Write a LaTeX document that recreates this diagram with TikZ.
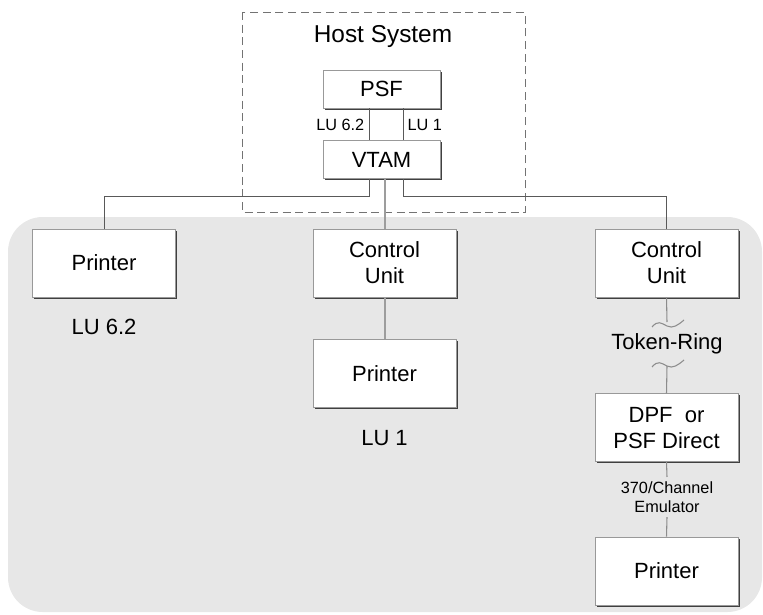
\documentclass[tikz,border=0pt]{standalone}
\usepackage{fontspec}
\setmainfont{Liberation Sans}
\usetikzlibrary{positioning,shadows,calc}
\definecolor{bgfill}{gray}{0.905}
\definecolor{linegray}{gray}{0.55}
\newcommand{\boxfont}{\fontsize{16.5}{19.5}\selectfont}
\newcommand{\titlefont}{\fontsize{18.3}{21}\selectfont}
\newcommand{\smallfont}{\fontsize{12.2}{14}\selectfont}
\tikzset{
	unit/.style={draw=black!40, fill=white, line width=0.5pt, align=center, font=\boxfont,
		minimum width=107pt, minimum height=51pt, inner sep=0pt,
		drop shadow={shadow xshift=1.3pt, shadow yshift=-1.3pt, opacity=1, fill=black!75}},
	hostunit/.style={unit, minimum width=87.5pt, minimum height=28.5pt},
	wire/.style={draw=black!65, line width=0.6pt},
	trunk/.style={draw=linegray!85, line width=1.5pt},
	thin/.style={draw=linegray, line width=0.8pt},
}

\begin{document}
\begin{tikzpicture}[x=0.75pt, y=-0.75pt]
	\useasboundingbox (0,0) rectangle (763,614);
	\fill[bgfill, rounded corners=26pt] (8,217) rectangle (762,612);
	\draw[black!55, line width=0.7pt, dash pattern=on 6pt off 3.5pt] (242,12) rectangle (525,212);

	\node[font=\titlefont] (host) at (383,37) {Host System};
	\node[hostunit] (psf) at (381.5,89) {PSF};
	\node[hostunit, below=24pt of psf] (vtam) {VTAM};

	\node[unit] (pr1) at (104,263) {Printer};
	\node[unit] (cu1) at (384.5,263) {Control\\Unit};
	\node[unit] (cu2) at (666.5,263) {Control\\Unit};
	\node[unit, below=31.5pt of cu1] (pr2) {Printer};
	\node[unit, below=72pt of cu2] (dpf) {DPF\ \ or\\PSF Direct};
	\node[unit, below=56pt of dpf] (pr3) {Printer};

	\node[font=\boxfont, below=13pt of pr1] (lu62) {LU 6.2};
	\node[font=\boxfont, below=13pt of pr2] (lu1) {LU 1};
	\node[font=\boxfont] (ring) at (667,344) {Token-Ring};
	\node[font=\smallfont, align=center] (emu) at (667,497) {370/Channel\\Emulator};

	\coordinate[xshift=-9.4pt] (psfl) at (psf.south);
	\coordinate[xshift=16.1pt] (psfr) at (psf.south);
	\coordinate (ring1) at (667,322);
	\coordinate (ring2) at (667,366);

	\draw[wire] (psfl) -- (psfl |- vtam.north);
	\draw[wire] (psfr) -- (psfr |- vtam.north);
	\node[font=\smallfont, anchor=east] (lua) at ([yshift=-0.5pt]$(psfl)!0.5!(psfl |- vtam.north)$) {LU 6.2};
	\node[font=\smallfont, anchor=west] (lub) at ([yshift=-0.5pt]$(psfr)!0.5!(psfr |- vtam.north)$) {LU 1};

	\draw[wire] (psfl |- vtam.south) -- ++(0,17) -| (pr1.north);
	\draw[wire] (psfr |- vtam.south) -- ++(0,17) -| (cu2.north);
	\draw[trunk] (vtam.south -| cu1.north) -- (cu1.north);
	\draw[trunk] (cu1.south) -- (pr2.north);

	\draw[thin] (cu2.south) -- (ring1);
	\draw[thin] (ring1) ++(-15,5) .. controls ++(6,-7) and ++(-6,-3) .. ++(15,-1) .. controls ++(6,3) and ++(-6,5) .. ++(17,-6);
	\draw[thin] (ring2) ++(-15,1) .. controls ++(6,-7) and ++(-6,-3) .. ++(15,-1) .. controls ++(6,3) and ++(-6,5) .. ++(17,-6);
	\draw[thin] (ring2) -- (dpf.north);
	\draw[thin] (dpf.south) -- (emu.north);
	\draw[thin] (emu.south) -- (pr3.north);
\end{tikzpicture}
\end{document}
